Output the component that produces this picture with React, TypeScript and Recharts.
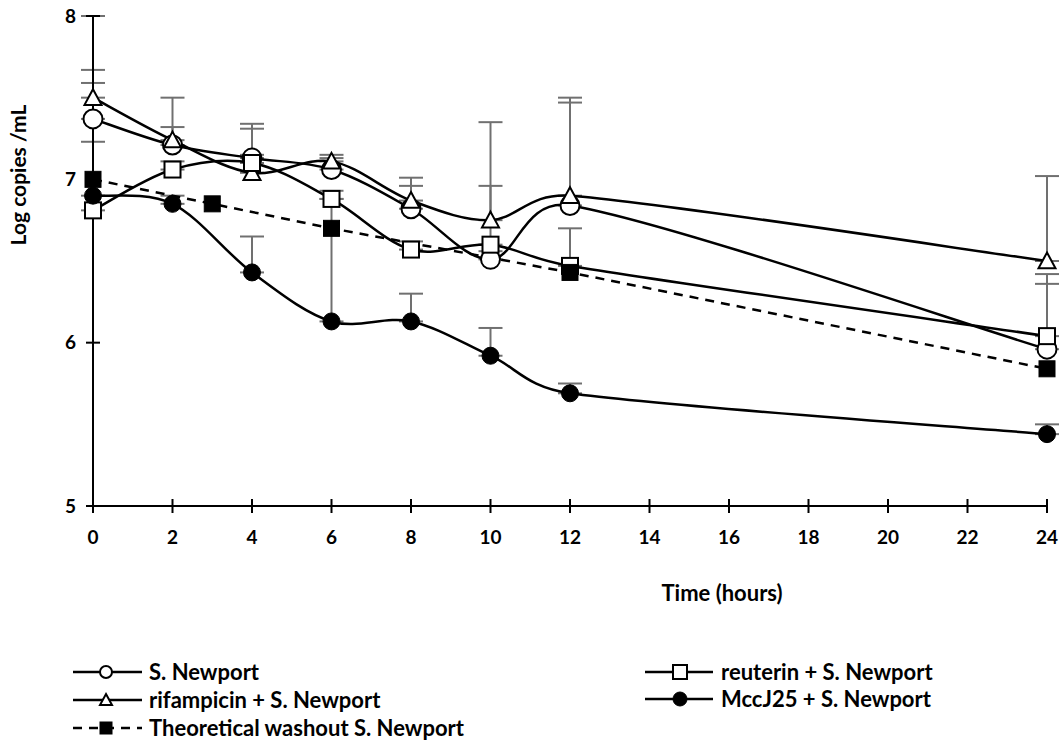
import React from 'react';
import { ComposedChart, Line, XAxis, YAxis, ErrorBar, Label } from 'recharts';

// sampling times (hours)
const hours = [0, 2, 4, 6, 8, 10, 12, 24];
const washoutHours = [0, 3, 6, 12, 24];

// log copies / mL per treatment, with upper error
const newport = [7.37, 7.21, 7.13, 7.06, 6.82, 6.51, 6.84, 5.96];
const newportErr = [0.22, 0.11, 0.21, 0.07, 0.14, 0.05, 0.63, 0.46];
const rifampicin = [7.5, 7.24, 7.04, 7.11, 6.87, 6.75, 6.9, 6.5];
const rifampicinErr = [0.17, 0.26, 0.27, 0.04, 0.14, 0.6, 0.6, 0.52];
const reuterin = [6.81, 7.06, 7.1, 6.88, 6.57, 6.6, 6.47, 6.04];
const reuterinErr = [1.19, 0.05, 0.05, 0.05, 0.05, 0.36, 0.23, 0.32];
const mccj25 = [6.9, 6.85, 6.43, 6.13, 6.13, 5.92, 5.69, 5.44];
const mccj25Err = [0.33, 0.05, 0.22, 0.75, 0.17, 0.17, 0.06, 0.06];
const washout = [7.0, 6.85, 6.7, 6.43, 5.84];

const xTicks = [0, 2, 4, 6, 8, 10, 12, 14, 16, 18, 20, 22, 24];
const yTicks = [5, 6, 7, 8];

const FONT = 'Lato, "Open Sans", sans-serif';
const ERR_COLOR = '#707070';

const toRows = (vals: number[], errs?: number[], xs: number[] = hours) =>
    xs.map((h, i) => ({ h, v: vals[i], err: errs ? [0, errs[i]] : undefined }));

const dist = (a: number[], b: number[]) => Math.hypot(b[0] - a[0], b[1] - a[1]);

// Excel-style smoothed line: bezier arms of 1/6 of the neighbour span,
// capped at half the segment length
const smoothCurve = (context: any) => {
    let pts: number[][] = [];
    return {
        areaStart() {},
        areaEnd() {},
        lineStart() { pts = []; },
        point(x: number, y: number) { pts.push([x, y]); },
        lineEnd() {
            if (!pts.length) return;
            context.moveTo(pts[0][0], pts[0][1]);
            for (let i = 0; i < pts.length - 1; i++) {
                const p0 = pts[Math.max(i - 1, 0)];
                const p1 = pts[i];
                const p2 = pts[i + 1];
                const p3 = pts[Math.min(i + 2, pts.length - 1)];
                const d12 = dist(p1, p2);
                const d02 = dist(p0, p2);
                const d13 = dist(p1, p3);
                const f1 = d02 / 6 < d12 / 2 ? 1 / 6 : d12 / (2 * d02);
                const f2 = d13 / 6 < d12 / 2 ? 1 / 6 : d12 / (2 * d13);
                context.bezierCurveTo(
                    p1[0] + f1 * (p2[0] - p0[0]), p1[1] + f1 * (p2[1] - p0[1]),
                    p2[0] - f2 * (p3[0] - p1[0]), p2[1] - f2 * (p3[1] - p1[1]),
                    p2[0], p2[1]
                );
            }
        },
    };
};

type Shape = 'circle' | 'triangle' | 'square' | 'dot' | 'block';

const Marker = ({ shape, cx, cy, s }: { shape: Shape; cx: number; cy: number; s: number }) => {
    const h = s / 2;
    switch (shape) {
        case 'circle':
            return <circle cx={cx} cy={cy} r={h} fill="#fff" stroke="#000" strokeWidth={2} />;
        case 'dot':
            return <circle cx={cx} cy={cy} r={h} fill="#000" stroke="#000" strokeWidth={1} />;
        case 'square':
            return <rect x={cx - h} y={cy - h} width={s} height={s} fill="#fff" stroke="#000" strokeWidth={2} />;
        case 'block':
            return <rect x={cx - h} y={cy - h} width={s} height={s} fill="#000" stroke="#000" strokeWidth={1} />;
        default:
            return (
                <path
                    d={`M${cx},${cy - h} L${cx + h},${cy + h * 0.85} L${cx - h},${cy + h * 0.85} Z`}
                    fill="#fff" stroke="#000" strokeWidth={2}
                />
            );
    }
};

const dotFor = (shape: Shape, s: number) => (props: any) => (
    <Marker key={`${shape}-${props.index}`} shape={shape} cx={props.cx} cy={props.cy} s={s} />
);

// crossing tick marks
const XTick = (props: any) => {
    const { x, y, payload } = props;
    const axisY = y - 31;
    return (
        <g>
            <line x1={x} x2={x} y1={axisY - 7} y2={axisY + 7} stroke="#000" strokeWidth={2} />
            <text x={x} y={y} dy="0.35em" textAnchor="middle" fontFamily={FONT} fontWeight="bold" fontSize={19} fill="#000">
                {payload.value}
            </text>
        </g>
    );
};

const YTick = (props: any) => {
    const { x, y, payload } = props;
    const axisX = x + 17;
    return (
        <g>
            <line x1={axisX - 7} x2={axisX + 7} y1={y} y2={y} stroke="#000" strokeWidth={2} />
            <text x={x} y={y} dy="0.35em" textAnchor="end" fontFamily={FONT} fontWeight="bold" fontSize={19} fill="#000">
                {payload.value}
            </text>
        </g>
    );
};

const legendLeft = [
    { name: 'S. Newport', shape: 'circle' as Shape, dashed: false },
    { name: 'rifampicin + S. Newport', shape: 'triangle' as Shape, dashed: false },
    { name: 'Theoretical washout S. Newport', shape: 'block' as Shape, dashed: true },
];
const legendRight = [
    { name: 'reuterin + S. Newport', shape: 'square' as Shape, dashed: false },
    { name: 'MccJ25 + S. Newport', shape: 'dot' as Shape, dashed: false },
];

const LegendItem = ({ item, x0, x1, mx, tx, y, s }: any) => (
    <g>
        <line x1={x0} x2={x1} y1={y} y2={y} stroke="#000" strokeWidth={2.5} strokeDasharray={item.dashed ? '9 7' : undefined} />
        <Marker shape={item.shape} cx={mx} cy={y} s={s} />
        <text x={tx} y={y} dy="0.35em" fontFamily={FONT} fontWeight="bold" fontSize={22} fill="#000">
            {item.name}
        </text>
    </g>
);

const series = [
    { key: 'newport', data: toRows(newport, newportErr), shape: 'circle' as Shape, size: 19 },
    { key: 'rifampicin', data: toRows(rifampicin, rifampicinErr), shape: 'triangle' as Shape, size: 17 },
    { key: 'reuterin', data: toRows(reuterin, reuterinErr), shape: 'square' as Shape, size: 16 },
    { key: 'mccj25', data: toRows(mccj25, mccj25Err), shape: 'dot' as Shape, size: 17 },
];

export default function App() {
    return (
        <div style={{ position: 'relative', width: 1062, height: 744, background: '#fff' }}>
            <style>{'body { margin: 0; }'}</style>
            <ComposedChart width={1062} height={744} margin={{ top: 16, right: 15, bottom: 0, left: 0 }}>
                <XAxis
                    type="number"
                    dataKey="h"
                    domain={[0, 24]}
                    ticks={xTicks}
                    allowDuplicatedCategory={false}
                    height={238}
                    stroke="#000"
                    strokeWidth={2}
                    tickLine={false}
                    tickSize={0}
                    tickMargin={31}
                    tick={<XTick />}
                >
                    <Label
                        content={() => (
                            <text x={722} y={593} dy="0.35em" textAnchor="middle" fontFamily={FONT} fontWeight="bold" fontSize={22} fill="#000">
                                Time (hours)
                            </text>
                        )}
                    />
                </XAxis>
                <YAxis
                    type="number"
                    domain={[5, 8]}
                    ticks={yTicks}
                    width={93}
                    stroke="#000"
                    strokeWidth={2}
                    tickLine={false}
                    tickSize={0}
                    tickMargin={17}
                    tick={<YTick />}
                >
                    <Label
                        content={() => (
                            <text
                                x={19}
                                y={175}
                                dy="0.35em"
                                transform="rotate(-90 19 175)"
                                textAnchor="middle"
                                fontFamily={FONT}
                                fontWeight="bold"
                                fontSize={21}
                                fill="#000"
                            >
                                Log copies /mL
                            </text>
                        )}
                    />
                </YAxis>
                {/* error bars first, so every marker sits on top of them */}
                {series.map(s => (
                    <Line
                        key={`${s.key}-err`}
                        data={s.data}
                        dataKey="v"
                        stroke="none"
                        dot={false}
                        activeDot={false}
                        legendType="none"
                        isAnimationActive={false}
                    >
                        <ErrorBar dataKey="err" direction="y" width={12} stroke={ERR_COLOR} strokeWidth={2} />
                    </Line>
                ))}
                {series.map(s => (
                    <Line
                        key={s.key}
                        data={s.data}
                        dataKey="v"
                        type={smoothCurve as any}
                        stroke="#000"
                        strokeWidth={2.5}
                        dot={dotFor(s.shape, s.size)}
                        activeDot={false}
                        isAnimationActive={false}
                    />
                ))}
                <Line
                    data={toRows(washout, undefined, washoutHours)}
                    dataKey="v"
                    type="linear"
                    stroke="#000"
                    strokeWidth={2.5}
                    strokeDasharray="9 7"
                    dot={dotFor('block', 16)}
                    activeDot={false}
                    isAnimationActive={false}
                />
            </ComposedChart>
            <svg width={1062} height={744} style={{ position: 'absolute', left: 0, top: 0, pointerEvents: 'none' }}>
                {legendLeft.map((item, i) => (
                    <LegendItem key={item.name} item={item} x0={73} x1={142} mx={106} tx={149} y={672 + i * 28} s={12} />
                ))}
                {legendRight.map((item, i) => (
                    <LegendItem key={item.name} item={item} x0={645} x1={713} mx={680} tx={721} y={672 + i * 27} s={14} />
                ))}
            </svg>
        </div>
    );
}
